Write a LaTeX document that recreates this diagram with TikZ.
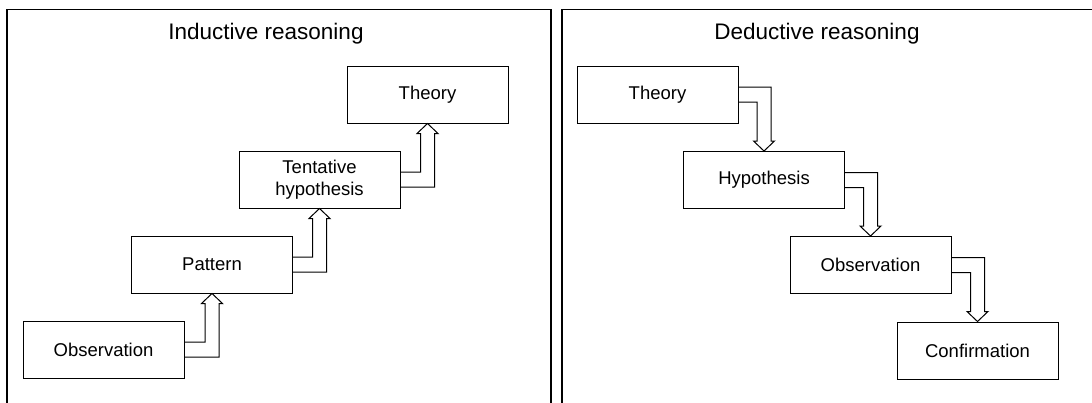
\documentclass[tikz,border=0pt]{standalone}
\usepackage{fontspec}
\setmainfont{Liberation Sans}
\usetikzlibrary{calc}

\tikzset{
  stepbox/.style={draw, line width=1pt, minimum width=161pt, minimum height=57pt,
    inner sep=2pt, align=center, font=\fontsize{18.5}{22}\selectfont},
  paneltitle/.style={anchor=base, font=\fontsize{22.5}{26}\selectfont},
  panel/.style={draw, line width=1.6pt},
  blockarrow/.style={draw, line width=1pt, line join=miter}
}

% hollow bent arrow, from the right side of #1 up into the bottom of #2
\newcommand{\risearrow}[2]{%
  \draw[blockarrow] ($(#1.east)+(0,-7.5)$) -| ($(#2.south)+(-7,10)$)
    -- ++(-3.5,0) -- (#2.south) -- ++(10.5,10) -- ++(-3.5,0)
    |- ($(#1.east)+(0,7.5)$);}
% hollow bent arrow, from the right side of #1 down onto the top of #2
\newcommand{\fallarrow}[2]{%
  \draw[blockarrow] ($(#1.east)+(0,-7.5)$) -| ($(#2.north)+(7,-10)$)
    -- ++(3.5,0) -- (#2.north) -- ++(-10.5,-10) -- ++(3.5,0)
    |- ($(#1.east)+(0,7.5)$);}

\begin{document}
\begin{tikzpicture}[x=1pt, y=-1pt]
  \useasboundingbox (0,0) rectangle (1092,402);
  \clip (0,0) rectangle (1092,402);

  % the two panels
  \draw[panel] (7,9.5) rectangle (551,430);
  \draw[panel] (562,9.5) rectangle (1110,430);
  \node[paneltitle] (ititle) at (266,39.5) {Inductive reasoning};
  \node[paneltitle] (dtitle) at (817,39.5) {Deductive reasoning};

  % inductive steps
  \draw
    (103.5,349.5) node[stepbox] (iobs) {Observation}
    (212,264.5) node[stepbox] (ipat) {Pattern}
    (319.5,179.5) node[stepbox] (ihyp) {Tentative\\hypothesis}
    (427.5,94.5) node[stepbox] (ithe) {Theory};

  % deductive steps
  \draw
    (657.5,94.5) node[stepbox] (dthe) {Theory}
    (764,180) node[stepbox] (dhyp) {Hypothesis}
    (870.5,265) node[stepbox] (dobs) {Observation}
    (977.5,350.5) node[stepbox] (dcon) {Confirmation};

  \risearrow{iobs}{ipat}
  \risearrow{ipat}{ihyp}
  \risearrow{ihyp}{ithe}

  \fallarrow{dthe}{dhyp}
  \fallarrow{dhyp}{dobs}
  \fallarrow{dobs}{dcon}
\end{tikzpicture}
\end{document}
